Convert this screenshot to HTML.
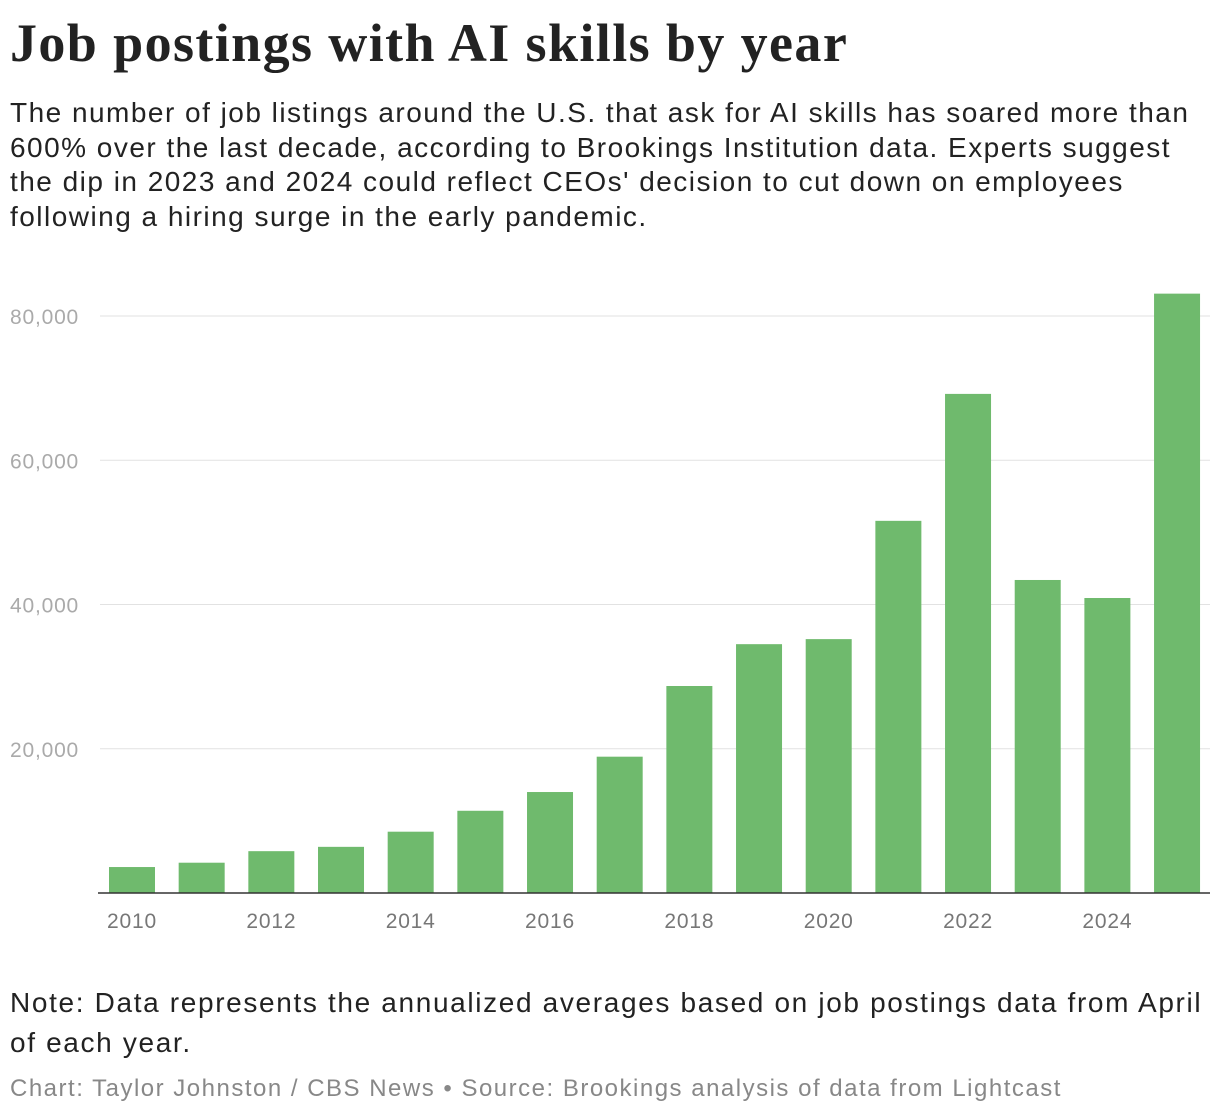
<!DOCTYPE html>
<html><head><meta charset="utf-8">
<style>
body{margin:0;background:#fff;width:1220px;height:1118px;overflow:hidden;font-family:"Liberation Sans",sans-serif;}
#title{position:absolute;left:10px;top:12px;font-family:"Liberation Serif",serif;font-weight:bold;font-size:54px;color:#222;letter-spacing:1.4px;margin:0;white-space:nowrap;}
#sub{position:absolute;left:10px;top:96px;width:1210px;font-size:28px;line-height:34.5px;color:#222;letter-spacing:1.48px;white-space:nowrap;}
#note{position:absolute;left:10px;top:983px;width:1210px;font-size:28px;line-height:40px;color:#222;letter-spacing:1.65px;white-space:nowrap;}
#credit{position:absolute;left:10px;top:1075px;font-size:24px;color:#888;letter-spacing:1.5px;white-space:nowrap;}
svg{position:absolute;left:0;top:0;}
</style></head><body>
<h1 id="title">Job postings with AI skills by year</h1>
<div id="sub">The number of job listings around the U.S. that ask for AI skills has soared more than<br>600% over the last decade, according to Brookings Institution data. Experts suggest<br>the dip in 2023 and 2024 could reflect CEOs' decision to cut down on employees<br>following a hiring surge in the early pandemic.</div>
<svg id="chart" width="1220" height="1118"></svg>
<div id="note">Note: Data represents the annualized averages based on job postings data from April<br>of each year.</div>
<div id="credit">Chart: Taylor Johnston / CBS News • Source: Brookings analysis of data from Lightcast</div>
<script>
const years=[2010,2011,2012,2013,2014,2015,2016,2017,2018,2019,2020,2021,2022,2023,2024,2025];
const postings=[3600,4200,5800,6400,8500,11400,14000,18900,28700,34500,35200,51600,69200,43400,40900,83100];
const yTicks=[20000,40000,60000,80000];
const yTickLabels=["20,000","40,000","60,000","80,000"];
const xTickYears=[2010,2012,2014,2016,2018,2020,2022,2024];
const NS="http://www.w3.org/2000/svg";
const svg=document.getElementById('chart');
const y=v=>893-v*(577/80000);
const x=yr=>132+(yr-2010)*69.67;
function mk(t,a){const e=document.createElementNS(NS,t);for(const k in a)e.setAttribute(k,a[k]);svg.appendChild(e);return e;}
yTicks.forEach((v,i)=>{
  const g=mk('line',{x1:100,x2:1210,y1:y(v),y2:y(v),stroke:'#e2e2e2','stroke-width':1});
  
  
  const t=mk('text',{x:10,y:y(v)+8,fill:'#aaa','font-size':21,'letter-spacing':0.8,'font-family':'Liberation Sans, sans-serif'});
  t.textContent=yTickLabels[i];
  
  
});
years.forEach((yr,i)=>{
  const r=mk('rect',{x:x(yr)-23,width:46,y:y(postings[i]),height:893-y(postings[i]),fill:'#6fba6d'});
  
  
});
const ax=mk('line',{x1:98,x2:1210,y1:893,y2:893,stroke:'#333','stroke-width':1.5});


xTickYears.forEach(yr=>{
  const t=mk('text',{x:x(yr),y:928,fill:'#777','font-size':21,'letter-spacing':0.8,'text-anchor':'middle','font-family':'Liberation Sans, sans-serif'});
  t.textContent=yr;
  
  
});
</script>
</body></html>
